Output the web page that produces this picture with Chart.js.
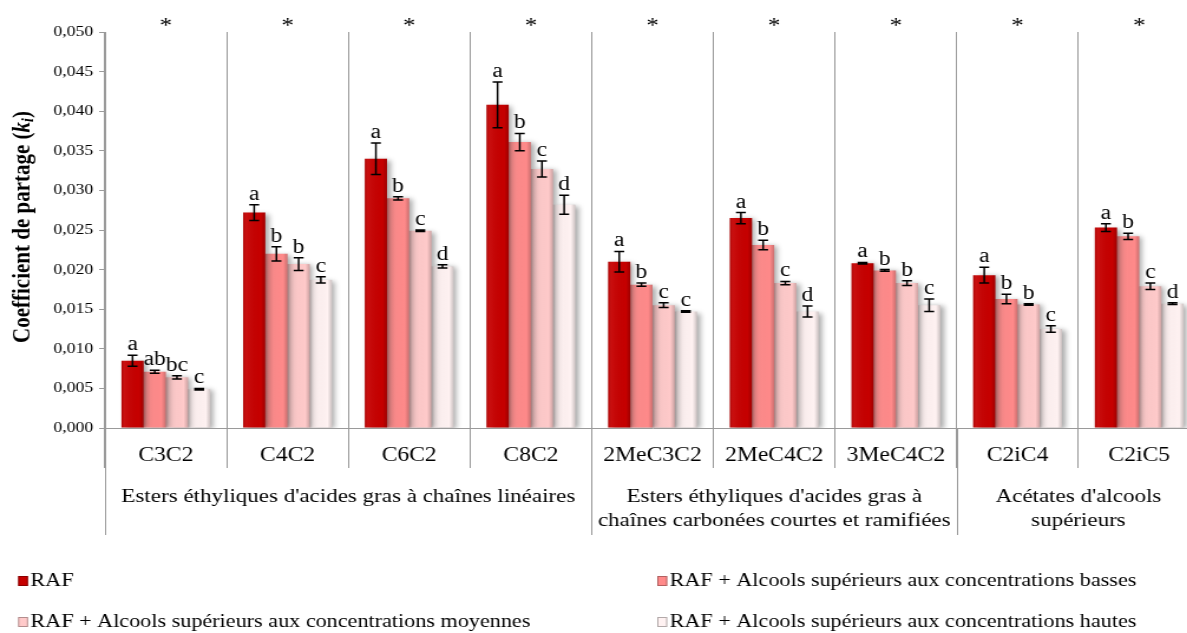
<!DOCTYPE html>
<html>
<head>
<meta charset="utf-8">
<script src="https://cdn.jsdelivr.net/npm/chart.js@4.4.1/dist/chart.umd.min.js"></script>
<style>
html, body { margin: 0; padding: 0; overflow: hidden; background: #fff; }
/* the reference figure is stretched horizontally, so is this one */
#wrap { width: 1017px; height: 633px; transform: scaleX(1.18); transform-origin: 0 0; }
</style>
</head>
<body>
<div id="wrap"><canvas id="chart"></canvas></div>
<script>
// Data
const categories = ['C3C2', 'C4C2', 'C6C2', 'C8C2', '2MeC3C2', '2MeC4C2', '3MeC4C2', 'C2iC4', 'C2iC5'];
const seriesNames = [
  'RAF',
  'RAF + Alcools supérieurs aux concentrations basses',
  'RAF + Alcools supérieurs aux concentrations moyennes',
  'RAF + Alcools supérieurs aux concentrations hautes'
];
const raf      = [0.0085, 0.0272, 0.0340, 0.0408, 0.0210, 0.0265, 0.0208, 0.0193, 0.0253];
const basses   = [0.0071, 0.0220, 0.0290, 0.0361, 0.0181, 0.0231, 0.0199, 0.0163, 0.0242];
const moyennes = [0.0064, 0.0207, 0.0249, 0.0327, 0.0155, 0.0183, 0.0183, 0.0156, 0.0179];
const hautes   = [0.0049, 0.0187, 0.0204, 0.0282, 0.0147, 0.0147, 0.0155, 0.0125, 0.0157];

const errRaf      = [0.0007, 0.0010, 0.0020, 0.0029, 0.0013, 0.0007, 0.0001, 0.0010, 0.0005];
const errBasses   = [0.0002, 0.0009, 0.0002, 0.0011, 0.0002, 0.0006, 0.0001, 0.0006, 0.0004];
const errMoyennes = [0.0002, 0.0008, 0.0001, 0.0010, 0.0003, 0.0002, 0.0003, 0.0001, 0.0004];
const errHautes   = [0.0001, 0.0004, 0.0002, 0.0012, 0.0001, 0.0007, 0.0008, 0.0004, 0.0001];

const lettersRaf      = ['a', 'a', 'a', 'a', 'a', 'a', 'a', 'a', 'a'];
const lettersBasses   = ['ab', 'b', 'b', 'b', 'b', 'b', 'b', 'b', 'b'];
const lettersMoyennes = ['bc', 'b', 'c', 'c', 'c', 'c', 'b', 'b', 'c'];
const lettersHautes   = ['c', 'c', 'd', 'd', 'c', 'd', 'c', 'c', 'd'];

const groupLabels = [
  ["Esters éthyliques d'acides gras à chaînes linéaires"],
  ["Esters éthyliques d'acides gras à", 'chaînes carbonées courtes et ramifiées'],
  ["Acétates d'alcools", 'supérieurs']
];
const groupSizes = [4, 3, 2];

const yTicks = { min: 0, max: 0.05, step: 0.005 };

const colors = ['#c60000', '#ff8a8a', '#ffcaca', '#fff2f2'];
const errors = [errRaf, errBasses, errMoyennes, errHautes];
const letters = [lettersRaf, lettersBasses, lettersMoyennes, lettersHautes];

const FONT = '"Liberation Serif", "Times New Roman", serif';
Chart.defaults.font.family = FONT;
Chart.defaults.color = '#000';

// Extra drawing: shadows, bevel, error bars, letters, asterisks, groups, title, legend
const extras = {
  id: 'extras',
  beforeDatasetsDraw(chart) {
    const ctx = chart.ctx;
    ctx.save();
    ctx.shadowColor = 'rgba(0,0,0,0.35)';
    ctx.shadowBlur = 5;
    ctx.shadowOffsetX = 3;
    ctx.shadowOffsetY = 1;
  },
  afterDatasetsDraw(chart) {
    const ctx = chart.ctx;
    ctx.restore();
    const ys = chart.scales.y;
    chart.data.datasets.forEach((ds, di) => {
      chart.getDatasetMeta(di).data.forEach((bar, i) => {
        const left = bar.x - bar.width / 2, w = bar.width;
        const g = ctx.createLinearGradient(left, 0, left + w, 0);
        g.addColorStop(0, 'rgba(0,0,0,0.14)');
        g.addColorStop(0.15, 'rgba(255,255,255,0.06)');
        g.addColorStop(0.8, 'rgba(0,0,0,0)');
        g.addColorStop(1, 'rgba(0,0,0,0.2)');
        ctx.fillStyle = g;
        ctx.fillRect(left, bar.y, w, bar.base - bar.y);

        const v = ds.data[i], e = errors[di][i];
        const yt = ys.getPixelForValue(v + e), yb = ys.getPixelForValue(v - e);
        ctx.strokeStyle = '#000';
        ctx.lineWidth = 1.5;
        ctx.beginPath();
        ctx.moveTo(bar.x, yt); ctx.lineTo(bar.x, yb);
        ctx.moveTo(bar.x - 4.2, yt); ctx.lineTo(bar.x + 4.2, yt);
        ctx.moveTo(bar.x - 4.2, yb); ctx.lineTo(bar.x + 4.2, yb);
        ctx.stroke();

        ctx.fillStyle = '#000';
        ctx.font = '20px ' + FONT;
        ctx.textAlign = 'center';
        ctx.textBaseline = 'alphabetic';
        ctx.fillText(letters[di][i], bar.x, yt - 5);
      });
    });
  },
  afterDraw(chart) {
    const ctx = chart.ctx;
    const xs = chart.scales.x;
    const area = chart.chartArea;
    const cw = (xs.right - xs.left) / categories.length;
    ctx.save();

    // asterisks
    ctx.fillStyle = '#000';
    ctx.font = '21px ' + FONT;
    ctx.textAlign = 'center';
    ctx.textBaseline = 'alphabetic';
    categories.forEach((c, i) => ctx.fillText('*', xs.getPixelForValue(i), 32));

    // group separators and labels
    ctx.strokeStyle = '#9a9a9a';
    ctx.lineWidth = 1;
    let start = 0;
    const bounds = [0];
    groupSizes.forEach(n => { start += n; bounds.push(start); });
    bounds.forEach(b => {
      const x = Math.round(xs.left + b * cw) + 0.5;
      ctx.beginPath();
      ctx.moveTo(x, area.bottom);
      ctx.lineTo(x, 535);
      ctx.stroke();
    });
    ctx.font = '19.5px ' + FONT;
    ctx.textBaseline = 'middle';
    groupLabels.forEach((lines, gi) => {
      const cx = xs.left + (bounds[gi] + bounds[gi + 1]) / 2 * cw;
      lines.forEach((t, li) => ctx.fillText(t, cx, 497 + li * 24));
    });

    // y axis title with italic k and subscript i
    ctx.save();
    ctx.translate(19.5, 227);
    ctx.rotate(-Math.PI / 2);
    const parts = [
      { t: 'Coefficient de partage (', f: 'bold 21px ' + FONT, dy: 0 },
      { t: 'k', f: 'italic bold 21px ' + FONT, dy: 0 },
      { t: 'i', f: 'italic bold 14px ' + FONT, dy: 5 },
      { t: ')', f: 'bold 21px ' + FONT, dy: 0 }
    ];
    let total = 0;
    parts.forEach(p => { ctx.font = p.f; p.w = ctx.measureText(p.t).width; total += p.w; });
    let px = -total / 2;
    ctx.textAlign = 'left';
    ctx.textBaseline = 'middle';
    parts.forEach(p => { ctx.font = p.f; ctx.fillText(p.t, px, p.dy); px += p.w; });
    ctx.restore();

    // legend, two columns
    const legendPos = [[15.3, 581], [557, 581], [15.3, 622], [557, 622]];
    ctx.font = '18.8px ' + FONT;
    ctx.textAlign = 'left';
    ctx.textBaseline = 'middle';
    chart.data.datasets.forEach((ds, di) => {
      const [lx, ly] = legendPos[di];
      ctx.fillStyle = ds.backgroundColor;
      ctx.fillRect(lx, ly - 5, 8.5, 10);
      ctx.strokeStyle = 'rgba(0,0,0,0.3)';
      ctx.strokeRect(lx + 0.5, ly - 4.5, 7.5, 9);
      ctx.fillStyle = '#000';
      ctx.fillText(ds.label, lx + 10.5, ly);
    });
    ctx.restore();
  }
};

const seriesValues = [raf, basses, moyennes, hautes];

new Chart(document.getElementById('chart'), {
  type: 'bar',
  data: {
    labels: categories,
    datasets: seriesValues.map((vals, i) => ({
      label: seriesNames[i],
      data: vals,
      backgroundColor: colors[i],
      borderWidth: 0,
      categoryPercentage: 0.73,
      barPercentage: 1
    }))
  },
  options: {
    responsive: true,
    maintainAspectRatio: false,
    animation: false,
    layout: { padding: { top: 32, left: 0, right: 0, bottom: 0 } },
    plugins: { legend: { display: false }, tooltip: { enabled: false } },
    scales: {
      x: {
        grid: { color: '#9a9a9a', tickLength: 40, offset: true },
        border: { color: '#9a9a9a' },
        ticks: { font: { size: 20 }, color: '#000', padding: -24, maxRotation: 0, autoSkip: false },
        afterFit: s => { s.height = 205; }
      },
      y: {
        min: yTicks.min,
        max: yTicks.max,
        ticks: {
          stepSize: yTicks.step,
          font: { size: 15 },
          color: '#000',
          padding: 5,
          callback: v => v.toFixed(3).replace('.', ',')
        },
        grid: { drawOnChartArea: false, tickLength: 5, color: '#9a9a9a' },
        border: { color: '#9a9a9a' },
        afterFit: s => { s.width = 89; }
      }
    }
  },
  plugins: [extras]
});
</script>
</body>
</html>
